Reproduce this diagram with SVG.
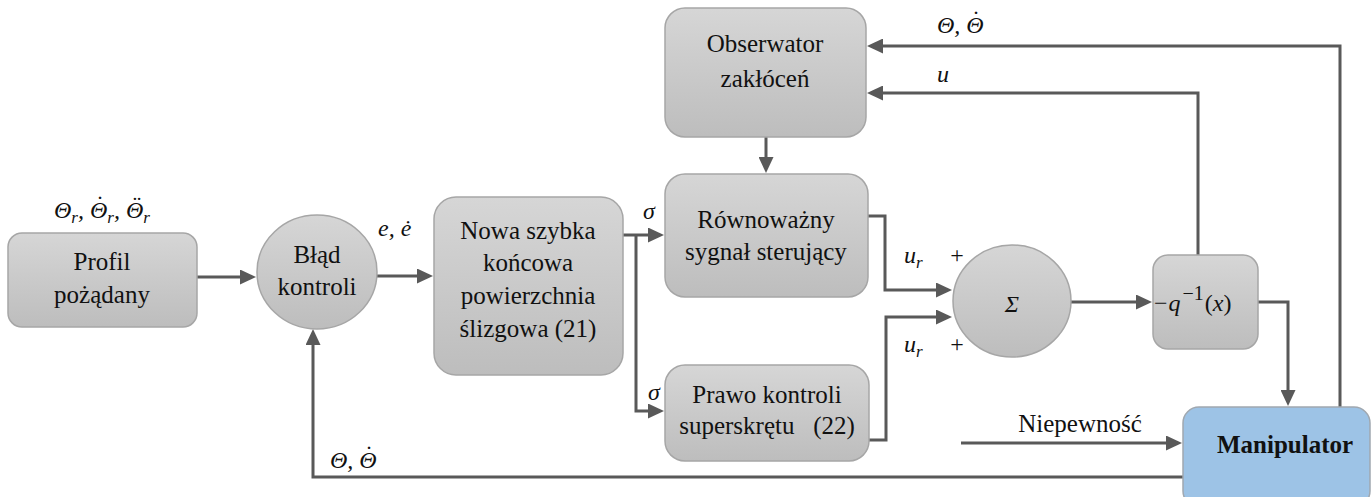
<svg xmlns="http://www.w3.org/2000/svg" width="1372" height="497" viewBox="0 0 1372 497">
  <defs>
    <linearGradient id="gray" x1="0" y1="0" x2="0" y2="1">
      <stop offset="0" stop-color="#d6d6d6"/>
      <stop offset="1" stop-color="#bdbdbd"/>
    </linearGradient>
    <marker id="arrow" markerUnits="userSpaceOnUse" markerWidth="17" markerHeight="15" refX="1" refY="7.5" orient="auto">
      <path d="M0,0 L16,7.5 L0,15 z" fill="#595959"/>
    </marker>
    <style>
      .box { fill: url(#gray); stroke: #a6a6a6; stroke-width: 1.5; }
      .blue { fill: #9dc3e6; stroke: #a0a8b0; stroke-width: 1.5; }
      .lbl { font-family: 'Liberation Serif', 'Times New Roman', serif; font-size: 25px; fill: #111; text-anchor: middle; }
      .bold { font-weight: bold; }
      .math { font-family: 'Liberation Serif', 'Times New Roman', serif; font-style: italic; font-size: 24px; fill: #111; }
      .acc { font-family: 'Liberation Serif', 'Times New Roman', serif; font-size: 24px; fill: #111; text-anchor: middle; }
      .wire { fill: none; stroke: #595959; stroke-width: 3; }
      .arr { marker-end: url(#arrow); }
    </style>
  </defs>

  <rect width="1372" height="497" fill="#ffffff"/>

  <!-- connectors -->
  <g id="connectors">
    <!-- Profil -> Blad -->
    <path class="wire arr" d="M197,277 H241"/>
    <!-- Blad -> Nowa -->
    <path class="wire arr" d="M377,276 H418"/>
    <!-- Nowa -> Rownowazny / Prawo -->
    <path class="wire arr" d="M623,235 H649"/>
    <path class="wire arr" d="M636,235 V411 H649"/>
    <!-- Obserwator -> Rownowazny -->
    <path class="wire arr" d="M766,137 V158"/>
    <!-- Rownowazny -> Sigma -->
    <path class="wire arr" d="M868,216 H885 V290 H937"/>
    <!-- Prawo -> Sigma -->
    <path class="wire arr" d="M869,440 H886 V317 H937"/>
    <!-- Sigma -> q -->
    <path class="wire arr" d="M1071,302 H1137"/>
    <!-- q -> Manipulator -->
    <path class="wire arr" d="M1258,302 H1288 V391"/>
    <!-- u back to Obserwator -->
    <path class="wire arr" d="M1198,255 V93 H882"/>
    <!-- Theta back to Obserwator -->
    <path class="wire arr" d="M1340,407 V46 H882"/>
    <!-- Niepewnosc -> Manipulator -->
    <path class="wire arr" d="M961,443 H1167"/>
    <!-- Manipulator feedback -> Blad -->
    <path class="wire arr" d="M1183,477 H313 V344"/>
  </g>

  <!-- nodes -->
  <g id="profil">
    <rect class="box" x="8" y="233" width="189" height="94" rx="14"/>
    <text class="lbl" x="102" y="270">Profil</text>
    <text class="lbl" x="102" y="303">pożądany</text>
  </g>

  <g id="blad">
    <ellipse class="box" cx="317" cy="272" rx="60" ry="57"/>
    <text class="lbl" x="317" y="263">Błąd</text>
    <text class="lbl" x="317" y="295">kontroli</text>
  </g>

  <g id="nowa">
    <rect class="box" x="434" y="197" width="189" height="178" rx="22"/>
    <text class="lbl" x="528" y="239">Nowa szybka</text>
    <text class="lbl" x="528" y="271">końcowa</text>
    <text class="lbl" x="528" y="304">powierzchnia</text>
    <text class="lbl" x="528" y="337">ślizgowa (21)</text>
  </g>

  <g id="obserwator">
    <rect class="box" x="665" y="8" width="201" height="129" rx="20"/>
    <text class="lbl" x="765" y="52">Obserwator</text>
    <text class="lbl" x="765" y="87">zakłóceń</text>
  </g>

  <g id="rownowazny">
    <rect class="box" x="665" y="174" width="203" height="123" rx="20"/>
    <text class="lbl" x="766" y="228">Równoważny</text>
    <text class="lbl" x="766" y="260">sygnał sterujący</text>
  </g>

  <g id="prawo">
    <rect class="box" x="665" y="365" width="204" height="96" rx="20"/>
    <text class="lbl" x="767" y="403">Prawo kontroli</text>
    <text class="lbl" x="767" y="434" style="white-space:pre">superskrętu   (22)</text>
  </g>

  <g id="sigma">
    <ellipse class="box" cx="1012" cy="301" rx="59" ry="56"/>
    <text class="math" x="1012" y="312" text-anchor="middle" font-size="31">Σ</text>
  </g>

  <g id="q-inv">
    <rect class="box" x="1153" y="255" width="105" height="94" rx="15"/>
    <text class="math" x="1154" y="311" font-size="28"><tspan font-style="normal">−</tspan><tspan dx="1">q</tspan><tspan dx="2" dy="-11" font-size="20" font-style="normal">−1</tspan><tspan dx="1" dy="11" font-style="normal">(</tspan>x<tspan font-style="normal">)</tspan></text>
  </g>

  <g id="manipulator">
    <rect class="blue" x="1183" y="407" width="187" height="100" rx="16"/>
    <text class="lbl bold" x="1285" y="453">Manipulator</text>
  </g>

  <!-- signal labels; dot accents are set as separate glyphs above each Θ -->
  <g id="labels">
    <text class="math" x="54" y="218">Θ<tspan dy="5" font-size="17">r</tspan><tspan dy="-5">, Θ</tspan><tspan dy="5" font-size="17">r</tspan><tspan dy="-5">, Θ</tspan><tspan dy="5" font-size="17">r</tspan></text>
    <text class="acc" x="100" y="212">˙</text>
    <text class="acc" x="137" y="212">¨</text>
    <text class="math" x="378" y="236">e, ė</text>
    <text class="math" x="643" y="219">σ</text>
    <text class="math" x="648" y="400">σ</text>
    <text class="math" x="904" y="263">u<tspan dy="5" font-size="17">r</tspan></text>
    <text class="acc" x="957" y="263">+</text>
    <text class="math" x="904" y="352">u<tspan dy="5" font-size="17">r</tspan></text>
    <text class="acc" x="957" y="352">+</text>
    <text class="math" x="937" y="33">Θ, Θ</text>
    <text class="acc" x="976" y="27">˙</text>
    <text class="math" x="937" y="82">u</text>
    <text class="math" x="330" y="468">Θ, Θ</text>
    <text class="acc" x="369" y="462">˙</text>
    <text class="lbl" x="1080" y="432">Niepewność</text>
  </g>
</svg>
